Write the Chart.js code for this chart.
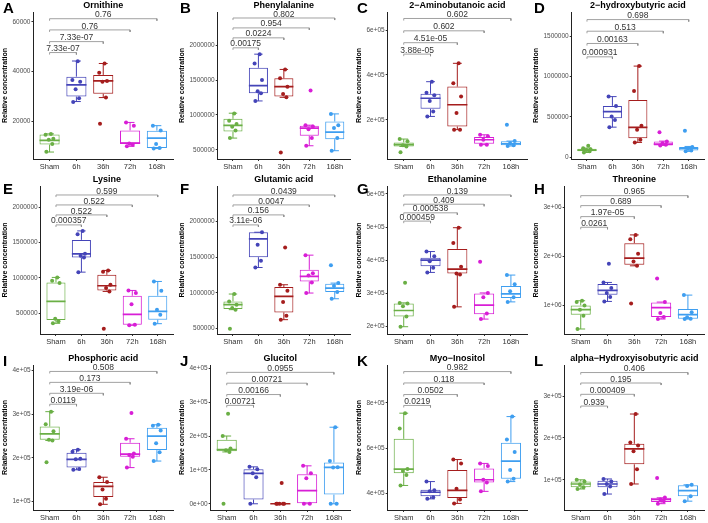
<!DOCTYPE html>
<html>
<head>
<meta charset="utf-8">
<script src="https://cdn.jsdelivr.net/npm/chart.js@4.4.0/dist/chart.umd.min.js"></script>
<style>
  html, body { margin: 0; padding: 0; background: #fff; }
  #grid { display: grid; grid-template-columns: repeat(4, 177px); grid-template-rows: 174px 174px 175px; width: 708px; height: 523px; }
  .cell { position: relative; }
  .cell canvas { position: absolute; left: 0; top: 0; }
  .tag { position: absolute; left: 3px; font: bold 15px "Liberation Sans", Arial, sans-serif; line-height: 15px; color: #000; }
</style>
</head>
<body>
<div id="grid"></div>
<script>
// groups shared by every panel
const groups = ['Sham', '6h', '36h', '72h', '168h'];

// box stats per group: [lower whisker, q1, median, q3, upper whisker]
// A Ornithine
const ornBox = [[7700, 10700, 12400, 14700, 15000], [28000, 30000, 34700, 38000, 44300], [29600, 31100, 36300, 38700, 43300], [10000, 11100, 11300, 16400, 19600], [9100, 9300, 13300, 16300, 18300]];
const ornPts = [[7800, 10900, 12600, 13000, 14600, 15000], [27800, 29300, 32900, 36000, 36700, 44200], [19100, 29600, 36000, 36300, 39600, 43300], [10000, 10600, 11100, 18300, 19600], [9100, 9300, 10900, 16400, 18300]];
const ornTicks = [20000, 40000, 60000];
const ornTickLabels = ['20000', '40000', '60000'];
const ornRange = [4900, 64000];
const ornP = ['7.33e-07', '7.33e-07', '0.76', '0.76'];
const ornPY = [47700, 52100, 56800, 61300];

// B Phenylalanine
const pheBox = [[667000, 762000, 848000, 943000, 1024000], [1200000, 1310000, 1419000, 1676000, 1871000], [1252000, 1262000, 1405000, 1524000, 1652000], [557000, 700000, 810000, 843000, 852000], [486000, 652000, 752000, 905000, 1014000]];
const phePts = [[667000, 776000, 830000, 870000, 914000, 1020000], [1200000, 1310000, 1340000, 1500000, 1738000, 1871000], [462000, 1252000, 1300000, 1405000, 1524000, 1652000], [557000, 667000, 795000, 833000, 852000, 1348000], [486000, 667000, 810000, 852000, 1014000]];
const pheTicks = [500000, 1000000, 1500000, 2000000];
const pheTickLabels = ['500000', '1000000', '1500000', '2000000'];
const pheRange = [367000, 2476000];
const pheP = ['0.00175', '0.0224', '0.954', '0.802'];
const phePY = [1962000, 2105000, 2248000, 2390000];

// C 2-Aminobutanoic acid
const abaBox = [[81000, 81000, 89000, 99000, 114000], [215000, 249000, 296000, 316000, 370000], [156000, 170000, 267000, 348000, 452000], [89000, 93000, 111000, 123000, 133000], [83000, 86000, 93000, 104000, 105000]];
const abaPts = [[55000, 81000, 86000, 104000, 114000], [215000, 237000, 284000, 310000, 321000, 370000], [156000, 156000, 230000, 304000, 363000, 452000], [89000, 89000, 111000, 126000, 133000], [83000, 86000, 95000, 105000, 178000]];
const abaTicks = [200000, 400000, 600000];
const abaTickLabels = ['2e+05', '4e+05', '6e+05'];
const abaRange = [25000, 681000];
const abaP = ['3.88e-05', '4.51e-05', '0.602', '0.602'];
const abaPY = [493000, 544000, 597000, 652000];

// D 2-hydroxybutyric acid
const hbaBox = [[60000, 74000, 90000, 107000, 115000], [374000, 485000, 567000, 637000, 752000], [185000, 238000, 370000, 711000, 1130000], [148000, 148000, 164000, 197000, 201000], [74000, 86000, 111000, 127000, 135000]];
const hbaPts = [[60000, 74000, 90000, 100000, 112000, 144000], [374000, 464000, 506000, 637000, 752000], [185000, 218000, 341000, 390000, 822000, 1130000], [148000, 156000, 176000, 197000, 312000], [74000, 86000, 107000, 127000, 329000]];
const hbaTicks = [0, 500000, 1000000, 1500000];
const hbaTickLabels = ['0', '500000', '1000000', '1500000'];
const hbaRange = [-20500, 1800000];
const hbaP = ['0.000931', '0.00163', '0.513', '0.698'];
const hbaPY = [1245000, 1410000, 1562000, 1706000];

// E Lysine
const lysBox = [[359000, 406000, 669000, 937000, 1008000], [1083000, 1290000, 1342000, 1539000, 1666000], [810000, 824000, 890000, 1045000, 1107000], [331000, 340000, 486000, 749000, 824000], [354000, 411000, 528000, 749000, 951000]];
const lysPts = [[359000, 387000, 425000, 928000, 961000, 1008000], [1083000, 1290000, 1316000, 1342000, 1619000, 1666000], [284000, 810000, 857000, 904000, 1088000, 1107000], [331000, 340000, 627000, 787000, 824000], [354000, 481000, 552000, 820000, 951000]];
const lysTicks = [500000, 1000000, 1500000, 2000000];
const lysTickLabels = ['500000', '1000000', '1500000', '2000000'];
const lysRange = [208000, 2301000];
const lysP = ['0.000357', '0.522', '0.522', '0.599'];
const lysPY = [1751000, 1892000, 2033000, 2174000];

// F Glutamic acid
const gluBox = [[766000, 775000, 836000, 882000, 985000], [1357000, 1502000, 1758000, 1851000, 1851000], [626000, 728000, 952000, 1083000, 1115000], [999000, 1162000, 1232000, 1325000, 1530000], [919000, 1013000, 1069000, 1129000, 1138000]];
const gluPts = [[500000, 766000, 790000, 836000, 882000, 985000], [1357000, 1451000, 1674000, 1851000], [626000, 682000, 873000, 1031000, 1115000, 1637000], [999000, 1148000, 1245000, 1278000, 1530000], [919000, 1013000, 1097000, 1138000, 1390000]];
const gluTicks = [500000, 1000000, 1500000, 2000000];
const gluTickLabels = ['500000', '1000000', '1500000', '2000000'];
const gluRange = [425000, 2499000];
const gluP = ['3.11e-06', '0.156', '0.0047', '0.0439'];
const gluPY = [1954000, 2094000, 2234000, 2373000];

// G Ethanolamine
const ethBox = [[199000, 230000, 248000, 269000, 271000], [363000, 382000, 400000, 407000, 426000], [259000, 360000, 373000, 434000, 498000], [222000, 237000, 264000, 299000, 301000], [274000, 286000, 298000, 322000, 355000]];
const ethPts = [[199000, 230000, 261000, 269000, 271000, 332000], [363000, 377000, 397000, 412000, 426000], [259000, 357000, 360000, 380000, 452000, 498000], [222000, 239000, 288000, 301000, 395000], [274000, 288000, 306000, 327000, 355000]];
const ethTicks = [200000, 300000, 400000, 500000, 600000];
const ethTickLabels = ['2e+05', '3e+05', '4e+05', '5e+05', '6e+05'];
const ethRange = [177000, 624000];
const ethP = ['0.000459', '0.000538', '0.409', '0.139'];
const ethPY = [518000, 543000, 569000, 597000];

// H Threonine
const thrBox = [[519000, 810000, 912000, 1000000, 1095000], [1081000, 1217000, 1305000, 1434000, 1468000], [1807000, 1827000, 1963000, 2268000, 2437000], [722000, 763000, 953000, 1061000, 1068000], [722000, 729000, 810000, 925000, 1210000]];
const thrPts = [[519000, 790000, 912000, 1000000, 1068000, 1095000], [1081000, 1170000, 1251000, 1353000, 1468000, 1848000], [1041000, 1807000, 1895000, 2051000, 2349000, 2437000], [722000, 763000, 844000, 1068000, 1549000], [722000, 729000, 756000, 858000, 1210000]];
const thrTicks = [1000000, 2000000, 3000000];
const thrTickLabels = ['1e+06', '2e+06', '3e+06'];
const thrRange = [417000, 3434000];
const thrP = ['0.0261', '1.97e-05', '0.689', '0.965'];
const thrPY = [2593000, 2810000, 3034000, 3237000];

// I Phosphoric acid
const phoBox = [[240000, 242000, 255000, 272000, 306000], [173000, 178000, 197000, 212000, 219000], [94000, 111000, 135000, 145000, 156000], [178000, 203000, 209000, 235000, 244000], [193000, 218000, 250000, 269000, 276000]];
const phoPts = [[190000, 240000, 242000, 261000, 277000, 306000], [173000, 175000, 197000, 198000, 214000, 219000], [94000, 107000, 128000, 145000, 156000], [178000, 203000, 207000, 210000, 244000, 303000], [193000, 213000, 234000, 263000, 274000, 276000]];
const phoTicks = [100000, 200000, 300000, 400000];
const phoTickLabels = ['1e+05', '2e+05', '3e+05', '4e+05'];
const phoRange = [81000, 412750];
const phoP = ['0.0119', '3.19e-06', '0.173', '0.508'];
const phoPY = [323000, 348000, 373000, 398000];

// J Glucitol
const gcBox = [[153000, 155000, 160000, 189000, 200000], [0, 12600, 90000, 102000, 109000], [0, 0, 0, 0, 0], [0, 0, 38700, 87000, 112000], [0, 27000, 107500, 122000, 226000]];
const gcPts = [[0, 153000, 158000, 163000, 200000, 266000], [0, 78000, 90000, 102000, 109000], [0, 0, 0, 0, 0, 61000], [0, 0, 75000, 90000, 112000], [0, 0, 107000, 108000, 126000, 226000]];
const gcTicks = [0, 100000, 200000, 300000, 400000];
const gcTickLabels = ['0e+00', '1e+05', '2e+05', '3e+05', '4e+05'];
const gcRange = [-18400, 409700];
const gcP = ['0.00721', '0.00166', '0.00721', '0.0955'];
const gcPY = [290500, 322500, 356000, 388000];

// K Myo-Inositol
const myoBox = [[436000, 490000, 508000, 641000, 754000], [377000, 388000, 406000, 417000, 453000], [357000, 381000, 414000, 504000, 550000], [410000, 449000, 461000, 511000, 533000], [453000, 465000, 543000, 624000, 739000]];
const myoPts = [[436000, 482000, 500000, 508000, 687000, 754000], [377000, 384000, 411000, 415000, 453000], [357000, 374000, 422000, 533000, 550000], [410000, 449000, 461000, 522000, 533000], [453000, 465000, 504000, 583000, 638000, 739000]];
const myoTicks = [400000, 600000, 800000];
const myoTickLabels = ['4e+05', '6e+05', '8e+05'];
const myoRange = [328000, 966000];
const myoP = ['0.0219', '0.0502', '0.118', '0.982'];
const myoPY = [788000, 836000, 887000, 937000];

// L alpha-Hydroxyisobutyric acid
const hibBox = [[78000, 82000, 90000, 96000, 100000], [66000, 82000, 90000, 98000, 102000], [90000, 137000, 174000, 186000, 257000], [43000, 47000, 53000, 57000, 57000], [49000, 61000, 74000, 87000, 88000]];
const hibPts = [[78000, 82000, 89000, 96000, 100000], [66000, 84000, 90000, 96000, 102000], [90000, 125000, 168000, 182000, 189000, 257000], [43000, 49000, 53000, 58000, 104000], [49000, 61000, 85000, 88000]];
const hibTicks = [100000, 200000, 300000];
const hibTickLabels = ['1e+05', '2e+05', '3e+05'];
const hibRange = [27900, 374000];
const hibP = ['0.939', '0.000409', '0.195', '0.406'];
const hibPY = [276000, 304000, 331000, 356000];

const panels = [
  { tag: 'A', title: 'Ornithine', box: ornBox, pts: ornPts, ticks: ornTicks, labels: ornTickLabels, range: ornRange, pv: ornP, py: ornPY },
  { tag: 'B', title: 'Phenylalanine', box: pheBox, pts: phePts, ticks: pheTicks, labels: pheTickLabels, range: pheRange, pv: pheP, py: phePY },
  { tag: 'C', title: '2\u2212Aminobutanoic acid', box: abaBox, pts: abaPts, ticks: abaTicks, labels: abaTickLabels, range: abaRange, pv: abaP, py: abaPY },
  { tag: 'D', title: '2\u2212hydroxybutyric acid', box: hbaBox, pts: hbaPts, ticks: hbaTicks, labels: hbaTickLabels, range: hbaRange, pv: hbaP, py: hbaPY },
  { tag: 'E', title: 'Lysine', box: lysBox, pts: lysPts, ticks: lysTicks, labels: lysTickLabels, range: lysRange, pv: lysP, py: lysPY },
  { tag: 'F', title: 'Glutamic acid', box: gluBox, pts: gluPts, ticks: gluTicks, labels: gluTickLabels, range: gluRange, pv: gluP, py: gluPY },
  { tag: 'G', title: 'Ethanolamine', box: ethBox, pts: ethPts, ticks: ethTicks, labels: ethTickLabels, range: ethRange, pv: ethP, py: ethPY },
  { tag: 'H', title: 'Threonine', box: thrBox, pts: thrPts, ticks: thrTicks, labels: thrTickLabels, range: thrRange, pv: thrP, py: thrPY },
  { tag: 'I', title: 'Phosphoric acid', box: phoBox, pts: phoPts, ticks: phoTicks, labels: phoTickLabels, range: phoRange, pv: phoP, py: phoPY },
  { tag: 'J', title: 'Glucitol', box: gcBox, pts: gcPts, ticks: gcTicks, labels: gcTickLabels, range: gcRange, pv: gcP, py: gcPY },
  { tag: 'K', title: 'Myo\u2212Inositol', box: myoBox, pts: myoPts, ticks: myoTicks, labels: myoTickLabels, range: myoRange, pv: myoP, py: myoPY },
  { tag: 'L', title: 'alpha\u2212Hydroxyisobutyric acid', box: hibBox, pts: hibPts, ticks: hibTicks, labels: hibTickLabels, range: hibRange, pv: hibP, py: hibPY }
];

// styling
const colors = ['#6AAF45', '#4444B8', '#A51D1D', '#D81ED6', '#3E9EF0'];
const jitter = [-0.12, 0.1, -0.03, 0.14, -0.15, 0.05];
const FONT = '"Liberation Sans", Arial, sans-serif';
const rowTop = [12, 12, 17];
const rowBottom = [2, 1, 0];
const tagTop = [0, 7, 5];
const capHalf = 0.165;
const boxHalf = 0.375;

const grid = document.getElementById('grid');

panels.forEach((p, idx) => {
  const row = Math.floor(idx / 4);
  const cell = document.createElement('div');
  cell.className = 'cell';
  const canvas = document.createElement('canvas');
  canvas.width = 177;
  canvas.height = row === 2 ? 175 : 174;
  cell.appendChild(canvas);
  const tag = document.createElement('div');
  tag.className = 'tag';
  tag.style.top = tagTop[row] + 'px';
  tag.textContent = p.tag;
  cell.appendChild(tag);
  grid.appendChild(cell);

  const endTick = (p.range[1] - p.range[0]) * 0.014;
  const datasets = [];

  // jittered points
  p.pts.forEach((vals, g) => {
    datasets.push({
      type: 'line', showLine: false, order: 0,
      data: vals.map((v, j) => ({ x: g + jitter[j % jitter.length], y: v })),
      pointRadius: 2, pointBackgroundColor: colors[g], pointBorderWidth: 0, pointHoverRadius: 2
    });
  });

  // medians
  p.box.forEach((b, g) => {
    datasets.push({
      type: 'line', order: 1,
      data: [{ x: g - boxHalf, y: b[2] }, { x: g + boxHalf, y: b[2] }],
      borderColor: colors[g], borderWidth: 1.7, pointRadius: 0
    });
  });

  // whiskers + caps
  p.box.forEach((b, g) => {
    datasets.push({
      type: 'line', order: 2,
      data: [
        { x: g, y: b[0] }, { x: g, y: b[1] }, { x: g, y: null },
        { x: g, y: b[3] }, { x: g, y: b[4] }, { x: g, y: null },
        { x: g - capHalf, y: b[0] }, { x: g + capHalf, y: b[0] }, { x: g, y: null },
        { x: g - capHalf, y: b[4] }, { x: g + capHalf, y: b[4] }
      ],
      borderColor: colors[g], borderWidth: 1, pointRadius: 0
    });
  });

  // boxes
  datasets.push({
    type: 'bar', order: 3,
    data: p.box.map((b, g) => ({ x: g, y: [b[1], b[3]] })),
    backgroundColor: 'rgba(255,255,255,0.5)',
    borderColor: colors, borderWidth: 1, borderSkipped: false,
    barPercentage: 0.75, categoryPercentage: 1
  });

  // significance brackets
  const br = [];
  p.py.forEach((y, k) => {
    br.push({ x: 0, y: y - endTick }, { x: 0, y: y }, { x: k + 1, y: y }, { x: k + 1, y: y - endTick }, { x: k + 1, y: null });
  });
  datasets.push({ type: 'line', order: 4, data: br, borderColor: '#8a8a8a', borderWidth: 0.8, pointRadius: 0 });

  const labelsPlugin = {
    id: 'labels' + idx,
    afterDatasetsDraw(chart) {
      const { ctx, chartArea: ca, scales } = chart;
      ctx.save();
      ctx.fillStyle = '#000';
      ctx.font = 'bold 9px ' + FONT;
      ctx.textAlign = 'center';
      ctx.textBaseline = 'middle';
      ctx.fillText(p.title, (ca.left + ca.right) / 2, ca.top - 6);
      ctx.font = '8.5px ' + FONT;
      ctx.fillStyle = '#333';
      ctx.textBaseline = 'bottom';
      p.pv.forEach((t, k) => {
        const x = (scales.x.getPixelForValue(0) + scales.x.getPixelForValue(k + 1)) / 2;
        ctx.fillText(t, x, scales.y.getPixelForValue(p.py[k]) + 0.5);
      });
      ctx.restore();
    }
  };

  new Chart(canvas, {
    type: 'bar',
    data: { datasets },
    plugins: [labelsPlugin],
    options: {
      responsive: false,
      animation: false,
      events: [],
      layout: { padding: { top: rowTop[row], right: 4, bottom: rowBottom[row], left: 1 } },
      plugins: { legend: { display: false }, tooltip: { enabled: false } },
      scales: {
        x: {
          type: 'linear', min: -0.6, max: 4.6, offset: false,
          afterBuildTicks: s => { s.ticks = groups.map((_, i) => ({ value: i })); },
          grid: { offset: false, drawOnChartArea: false, drawTicks: true, tickLength: 2, color: '#333' },
          border: { display: true, color: '#222', width: 1 },
          ticks: { callback: v => groups[v], autoSkip: false, maxRotation: 0, padding: 1, color: '#333', font: { size: 7.5, family: FONT } }
        },
        y: {
          min: p.range[0], max: p.range[1],
          afterBuildTicks: s => { s.ticks = p.ticks.map(v => ({ value: v })); },
          grid: { drawOnChartArea: false, drawTicks: true, tickLength: 2, color: '#333' },
          border: { display: true, color: '#222', width: 1 },
          title: { display: true, text: 'Relative concentration', color: '#000', padding: { top: 0, bottom: 2 }, font: { size: 7, weight: 'bold', family: FONT } },
          ticks: { callback: (v, i) => p.labels[i], padding: 1, color: '#4d4d4d', font: { size: 6.5, family: FONT } }
        }
      }
    }
  });
});
</script>
</body>
</html>
